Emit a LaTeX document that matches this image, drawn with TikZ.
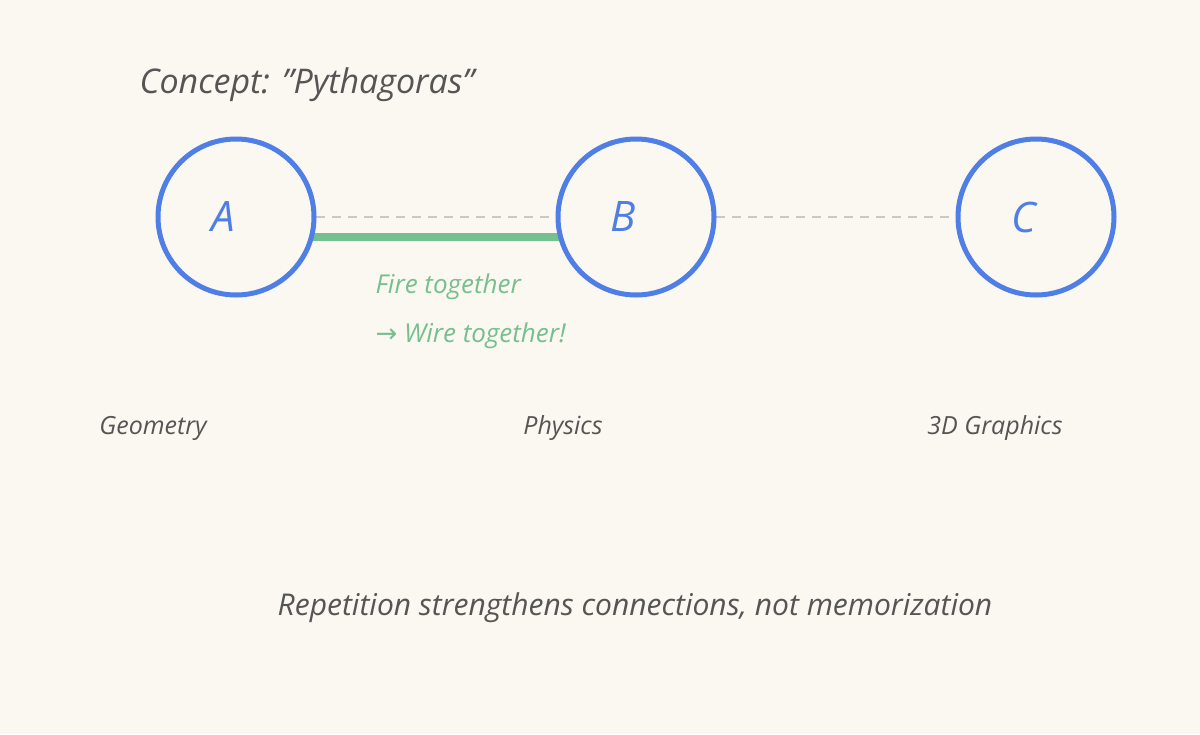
\documentclass[tikz,border=0pt]{standalone}
\usepackage{fontspec}
\setmainfont{Open Sans}
\newfontfamily\symf{DejaVu Sans}
\definecolor{bg}{HTML}{FBF8F1}
\definecolor{blu}{HTML}{4F7FE6}
\definecolor{grn}{HTML}{76BF8F}
\definecolor{txt}{HTML}{555555}
\definecolor{dsh}{HTML}{C8C8C8}
\begin{document}
\begin{tikzpicture}[x=1pt,y=-1pt,
  neuron/.style={circle,draw=blu,line width=5pt,fill=bg,minimum size=156pt,inner sep=0pt,text=blu,font=\itshape\fontsize{42}{44}\selectfont},
  lbl/.style={text=txt,font=\itshape\fontsize{25}{28}\selectfont},
  gtxt/.style={text=grn,anchor=west,font=\itshape\fontsize{26}{30}\selectfont}]
\fill[bg] (0,0) rectangle (1200,734);
\useasboundingbox (0,0) rectangle (1200,734);
\coordinate (a0) at (236,217);
\coordinate (b0) at (636,217);
\coordinate (c0) at (1036,217);
\draw[dsh,line width=2.5pt,dash pattern=on 9pt off 7pt] (a0) -- (b0) -- (c0);
\coordinate (g1) at (300,237);
\coordinate (g2) at (570,237);
\draw[grn,line width=8pt] (g1) -- (g2);
\node[neuron] (A) at (a0) {\hspace*{-0.6em}A};
\node[neuron] (B) at (b0) {\hspace*{-0.6em}B};
\node[neuron] (C) at (c0) {\hspace*{-0.6em}C};
\node[anchor=west,text=txt,font=\itshape\fontsize{34}{38}\selectfont] (title) at (136,85) {Concept: "Pythagoras"};
\node[gtxt] (f1) at (372,287) {Fire together};
\begin{scope}
\clip (360,300) rectangle (622,370);
\node[gtxt] (f2) at (372,336) {{\symf\upshape →} Wire together!};
\end{scope}
\node[lbl] (geo) at (153,428) {Geometry};
\node[lbl] (phy) at (563,428) {Physics};
\node[lbl] (gra) at (995,428) {3D Graphics};
\node[text=txt,font=\itshape\fontsize{30}{34}\selectfont] (bot) at (635,608) {Repetition strengthens connections, not memorization};
\end{tikzpicture}
\end{document}
